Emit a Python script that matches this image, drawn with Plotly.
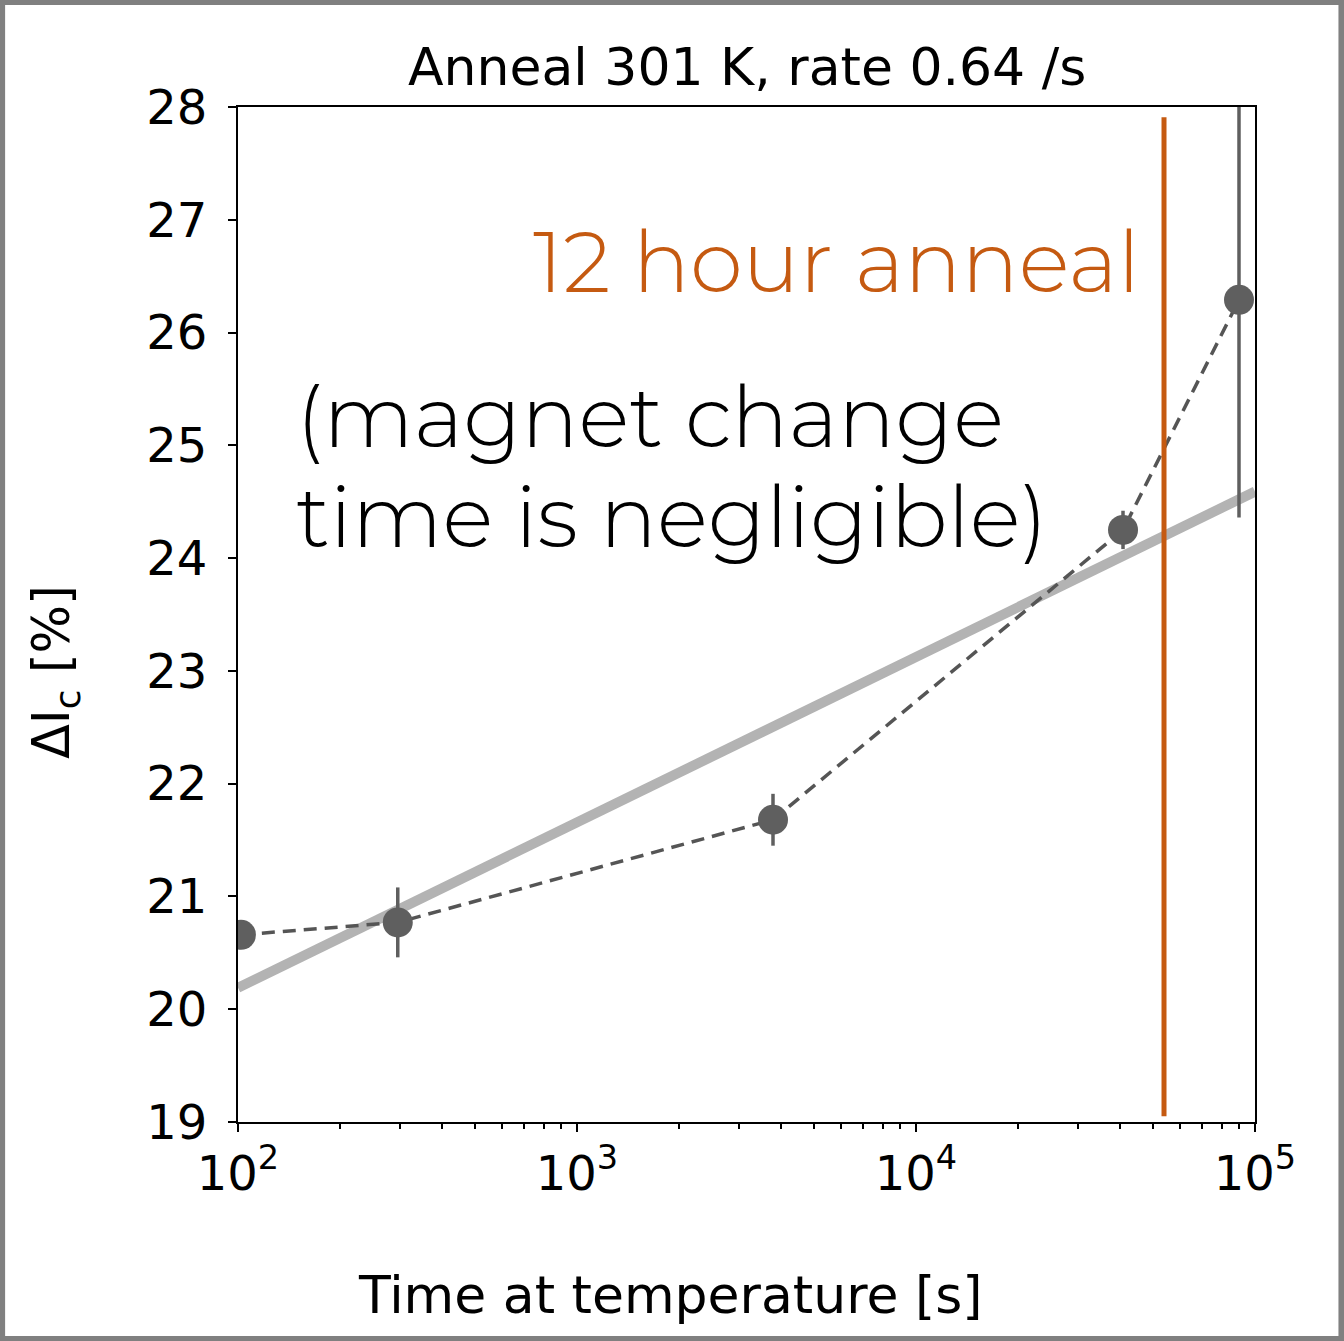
import plotly.graph_objects as go

# ---- data ----
time_s = [102, 296, 3786, 40800, 89700]
delta_ic = [20.66, 20.77, 21.68, 24.25, 26.29]
delta_ic_err = [0.08, 0.31, 0.23, 0.17, 1.93]

fit_time = [100, 100000]
fit_delta = [20.19, 24.59]

anneal_12h_time = [53900, 53900]
anneal_12h_y = [19.05, 27.91]

y_ticks = [19, 20, 21, 22, 23, 24, 25, 26, 27, 28]
x_major = [100, 1000, 10000, 100000]
x_major_text = ["10<sup>2</sup>", "10<sup>3</sup>", "10<sup>4</sup>", "10<sup>5</sup>"]

title_text = "Anneal 301 K, rate 0.64 /s"
x_label = "Time at temperature [s]"
y_label = "ΔI<sub>c</sub> [%]"
note_orange = "12 hour anneal"
note_black_lines = ["(magnet change", "time is negligible)"]

# ---- layout geometry (pixels) ----
W, H = 1344, 1341
L, R, T, B = 238, 1255.5, 107, 1122
pw, ph = R - L, B - T


def px(x):
    return (x - L) / pw


def py(y):
    return (B - y) / ph


x_minor = [m * 10 ** e for e in (2, 3, 4) for m in range(2, 10)]

fig = go.Figure()

fig.add_trace(go.Scatter(
    x=fit_time, y=fit_delta, mode="lines",
    line=dict(color="#b3b3b3", width=10), hoverinfo="skip", showlegend=False))

fig.add_trace(go.Scatter(
    x=time_s, y=delta_ic, mode="lines+markers",
    line=dict(color="#555555", width=3.5, dash="13px,8px"),
    marker=dict(color="#5f5f5f", size=30),
    error_y=dict(type="data", array=delta_ic_err, thickness=3.5, width=0, color="#5f5f5f"),
    showlegend=False))

fig.add_trace(go.Scatter(
    x=anneal_12h_time, y=anneal_12h_y, mode="lines",
    line=dict(color="#c55a11", width=5), hoverinfo="skip", showlegend=False))

tick_font = dict(family="DejaVu Sans", size=48, color="black")

fig.update_xaxes(
    type="log", range=[2, 5],
    tickvals=x_major, ticktext=x_major_text,
    ticks="outside", ticklen=8, tickwidth=2, tickcolor="black",
    minor=dict(tickvals=x_minor, ticks="outside", ticklen=5, tickwidth=1.5, tickcolor="black", showgrid=False),
    showline=True, linecolor="black", linewidth=2, mirror=True,
    showgrid=False, zeroline=False, tickfont=tick_font)

fig.update_yaxes(
    range=[19, 28], tickvals=y_ticks,
    ticks="outside", ticklen=8, tickwidth=2, tickcolor="black",
    ticklabelstandoff=11,
    showline=True, linecolor="black", linewidth=2, mirror=True,
    showgrid=False, zeroline=False, tickfont=tick_font)

note_font = dict(family="Montserrat, Inter", size=85, color="black", weight=300)

annotations = [
    dict(text=title_text, xref="paper", yref="paper", x=0.5, y=py(67),
         xanchor="center", yanchor="middle", showarrow=False,
         font=dict(family="DejaVu Sans", size=52, color="black")),
    dict(text=x_label, xref="paper", yref="paper", x=px(671), y=py(1295),
         xanchor="center", yanchor="middle", showarrow=False,
         font=dict(family="DejaVu Sans", size=52, color="black")),
    dict(text=y_label, xref="paper", yref="paper", x=px(55), y=py(672),
         xanchor="center", yanchor="middle", showarrow=False, textangle=-90,
         font=dict(family="DejaVu Sans", size=51, color="black")),
    dict(text=note_orange, xref="paper", yref="paper", x=px(1142), y=py(261),
         xanchor="right", yanchor="middle", showarrow=False,
         font=dict(family="Montserrat, Inter", size=85, color="#c55a11", weight=300)),
    dict(text=note_black_lines[0], xref="paper", yref="paper", x=px(294), y=py(416),
         xanchor="left", yanchor="middle", align="left", showarrow=False, font=note_font),
    dict(text=note_black_lines[1], xref="paper", yref="paper", x=px(294), y=py(516),
         xanchor="left", yanchor="middle", align="left", showarrow=False, font=note_font),
]

shapes = [
    dict(type="rect", xref="paper", yref="paper",
         x0=px(0), x1=px(W), y0=py(H), y1=py(0),
         line=dict(color="#808080", width=10), fillcolor="rgba(0,0,0,0)", layer="above"),
]

fig.update_layout(
    width=W, height=H, autosize=False,
    margin=dict(l=L, r=W - R, t=T, b=H - B, pad=0),
    paper_bgcolor="white", plot_bgcolor="white",
    annotations=annotations, shapes=shapes, showlegend=False)

fig.write_html(
    "out.html",
    config={"displayModeBar": False},
    post_script="document.body.style.margin='0';document.body.style.overflow='hidden';")
